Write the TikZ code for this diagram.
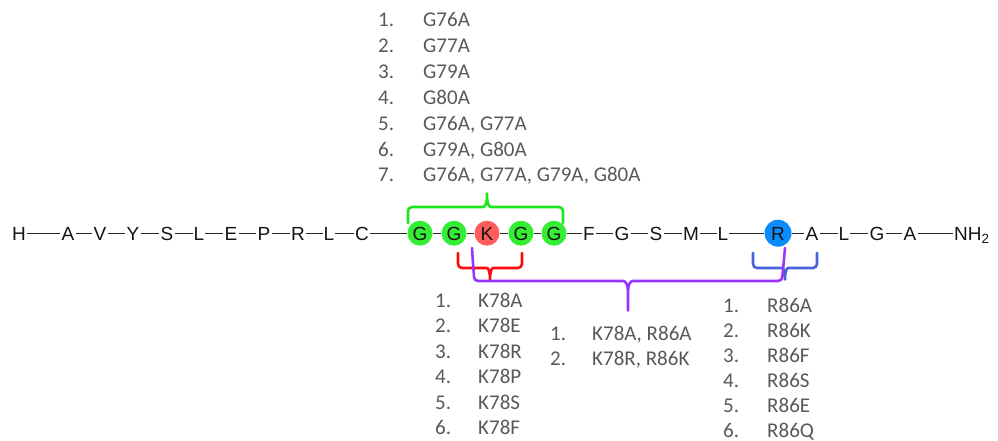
\documentclass[tikz,border=0pt]{standalone}
\usepackage{fontspec}
\usetikzlibrary{backgrounds}
\newfontfamily\chainfont{Liberation Sans}
\newfontfamily\listfont{Carlito}
\definecolor{listgray}{HTML}{595959}
\definecolor{glyfill}{HTML}{33EE33}
\definecolor{lysfill}{HTML}{FF5C5C}
\definecolor{argfill}{HTML}{0A8CFF}
\definecolor{gbrace}{HTML}{1EE61E}
\definecolor{rbrace}{HTML}{FF0A0A}
\definecolor{pbrace}{HTML}{9933FF}
\definecolor{bbrace}{HTML}{4863DA}
\begin{document}
\begin{tikzpicture}[x=1pt,y=-1pt,
  res/.style={font=\chainfont\fontsize{19}{19}\selectfont, text=black!92,
    inner sep=1pt, text height=13.6pt, text depth=0pt, anchor=base},
  mark res/.style={res, circle, inner sep=0pt, minimum size=#1},
  gly/.style={mark res=25pt, fill=glyfill},
  lys/.style={mark res=25pt, fill=lysfill},
  arg/.style={mark res=27pt, fill=argfill},
  bond/.style={draw=black!85, line width=1.4pt},
  listtxt/.style={font=\listfont\fontsize{21}{21}\selectfont, text=listgray,
    inner sep=0pt, anchor=base west},
  brace/.style={line width=2.6pt, rounded corners=4pt, line cap=round, line join=round}]
\useasboundingbox (0,0) rectangle (998,441);

% peptide chain
\def\bl{240}
\node[res] (h)   at (19,\bl)  {H};
\node[res] (r1)  at (68,\bl)  {A};
\node[res] (r2)  at (100,\bl) {V};
\node[res] (r3)  at (133,\bl) {Y};
\node[res] (r4)  at (167,\bl) {S};
\node[res] (r5)  at (199,\bl) {L};
\node[res] (r6)  at (231,\bl) {E};
\node[res] (r7)  at (264,\bl) {P};
\node[res] (r8)  at (298,\bl) {R};
\node[res] (r9)  at (329,\bl) {L};
\node[res] (r10) at (362,\bl) {C};
\node[gly] (g76) at (420,\bl) {G};
\node[gly] (g77) at (454,\bl) {G};
\node[lys] (k78) at (487,\bl) {K};
\node[gly] (g79) at (521,\bl) {G};
\node[gly] (g80) at (554,\bl) {G};
\node[res] (r11) at (589,\bl) {F};
\node[res] (r12) at (622,\bl) {G};
\node[res] (r13) at (656,\bl) {S};
\node[res] (r14) at (691,\bl) {M};
\node[res] (r15) at (723,\bl) {L};
\node[arg] (r86) at (778,\bl) {R};
\node[res] (r16) at (812,\bl) {A};
\node[res] (r17) at (844,\bl) {L};
\node[res] (r18) at (877,\bl) {G};
\node[res] (r19) at (910,\bl) {A};
\node[res, anchor=base west] (nh) at (953,\bl) {NH\textsubscript{2}};

\begin{scope}[on background layer]
\foreach \a/\b in {h/r1,r1/r2,r2/r3,r3/r4,r4/r5,r5/r6,r6/r7,r7/r8,r8/r9,r9/r10,
  r10/g76,g76/g77,g77/k78,k78/g79,g79/g80,g80/r11,r11/r12,r12/r13,r13/r14,r14/r15,
  r15/r86,r86/r16,r16/r17,r17/r18,r18/r19,r19/nh}
  \draw[bond] (\a) -- (\b);
\end{scope}

% braces
\draw[brace, gbrace] (408,223) -- (408,207) -- (479,207)
  .. controls (485,207) and (487,204) .. (487,191)
  .. controls (487,204) and (489,207) .. (495,207) -- (563,207) -- (563,223);
\draw[brace, rbrace] (458,253) -- (458,268) -- (483,268)
  .. controls (488,268) and (490,271) .. (490,283)
  .. controls (490,271) and (492,268) .. (497,268) -- (522,268) -- (522,253);
\draw[brace, bbrace] (753,253) -- (753,268) -- (778,268)
  .. controls (783,268) and (785,271) .. (785,282)
  .. controls (785,271) and (787,268) .. (792,268) -- (817,268) -- (817,253);
\draw[brace, pbrace] (472,248) .. controls (473,265) and (474,275) .. (474,281) -- (619,281)
  .. controls (626,281) and (628,285) .. (628,296) -- (628,313)
  -- (628,296) .. controls (628,285) and (630,281) .. (637,281) -- (782,281) -- (785,248);

% mutation lists
\foreach \i/\t in {1/G76A,2/G77A,3/G79A,4/G80A,5/{G76A, G77A},6/{G79A, G80A},
  7/{G76A, G77A, G79A, G80A}}{
  \node[listtxt] (gn\i) at (378,{27+25.8*(\i-1)}) {\i.};
  \node[listtxt] (gt\i) at (423,{27+25.8*(\i-1)}) {\t};
}
\foreach \i/\t in {1/K78A,2/K78E,3/K78R,4/K78P,5/K78S,6/K78F}{
  \node[listtxt] (kn\i) at (435,{307+25.5*(\i-1)}) {\i.};
  \node[listtxt] (kt\i) at (478,{307+25.5*(\i-1)}) {\t};
}
\foreach \i/\t in {1/{K78A, R86A},2/{K78R, R86K}}{
  \node[listtxt] (dn\i) at (550,{340+25.4*(\i-1)}) {\i.};
  \node[listtxt] (dt\i) at (592,{340+25.4*(\i-1)}) {\t};
}
\foreach \i/\t in {1/R86A,2/R86K,3/R86F,4/R86S,5/R86E,6/R86Q}{
  \node[listtxt] (rn\i) at (723,{312+25*(\i-1)}) {\i.};
  \node[listtxt] (rt\i) at (767,{312+25*(\i-1)}) {\t};
}
\end{tikzpicture}
\end{document}
